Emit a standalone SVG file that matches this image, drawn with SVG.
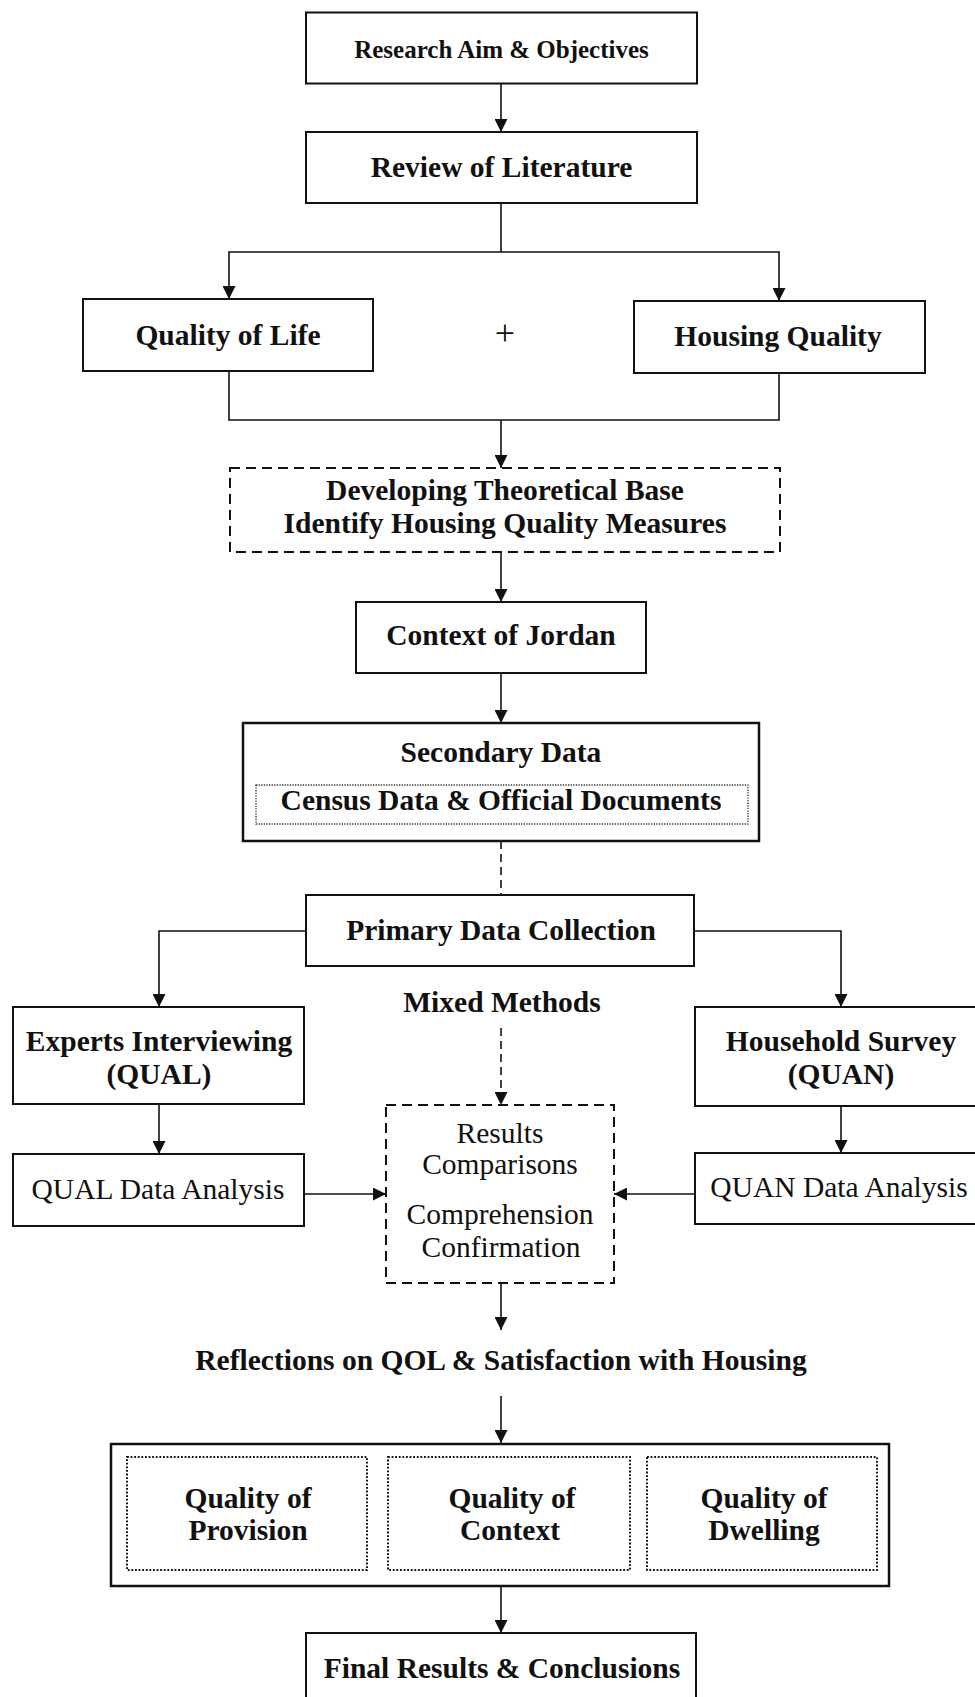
<svg xmlns="http://www.w3.org/2000/svg" width="975" height="1697" viewBox="0 0 975 1697">
  <style>
    .box { fill: #fff; stroke: #111; stroke-width: 2; }
    .heavy { stroke-width: 2.5; }
    .dash { fill: #fff; stroke: #111; stroke-width: 2; stroke-dasharray: 10 6; }
    .dot { fill: none; stroke: #111; stroke-width: 2; stroke-dasharray: 1.8 1.8; }
    .dot-thin { fill: none; stroke: #333; stroke-width: 1.3; stroke-dasharray: 1.3 1.3; }
    .t { font-family: "Liberation Serif", "Times New Roman", serif; font-size: 29.5px; fill: #111; text-anchor: middle; }
    .b { font-weight: bold; }
    .wire { fill: none; stroke: #111; stroke-width: 1.6; }
    .wire-dash { fill: none; stroke: #111; stroke-width: 1.6; stroke-dasharray: 8 5; }
  </style>
  <defs>
    <marker id="arrow" markerUnits="userSpaceOnUse" markerWidth="13" markerHeight="13" refX="13" refY="6.5" orient="auto">
      <path d="M0,0 L13,6.5 L0,13 Z" fill="#111"/>
    </marker>
  </defs>
  <rect width="975" height="1697" fill="#fff"/>

  <!-- connectors -->
  <g id="connectors">
    <path class="wire" d="M501 83 V132" marker-end="url(#arrow)"/>
    <path class="wire" d="M501 203 V252 H229 V299" marker-end="url(#arrow)"/>
    <path class="wire" d="M501 252 H779 V301" marker-end="url(#arrow)"/>
    <path class="wire" d="M229 371 V420 H779 V373"/>
    <path class="wire" d="M501 420 V468" marker-end="url(#arrow)"/>
    <path class="wire" d="M501 552 V602" marker-end="url(#arrow)"/>
    <path class="wire" d="M501 673 V723" marker-end="url(#arrow)"/>
    <path class="wire-dash" d="M501 841 V895"/>
    <path class="wire" d="M306 931 H159 V1007" marker-end="url(#arrow)"/>
    <path class="wire" d="M694 931 H841 V1007" marker-end="url(#arrow)"/>
    <path class="wire-dash" d="M501 1028 V1105" marker-end="url(#arrow)"/>
    <path class="wire" d="M159 1104 V1154" marker-end="url(#arrow)"/>
    <path class="wire" d="M841 1106 V1153" marker-end="url(#arrow)"/>
    <path class="wire" d="M304 1194 H386" marker-end="url(#arrow)"/>
    <path class="wire" d="M695 1194 H614" marker-end="url(#arrow)"/>
    <path class="wire" d="M501 1283 V1330" marker-end="url(#arrow)"/>
    <path class="wire" d="M501 1396 V1443" marker-end="url(#arrow)"/>
    <path class="wire" d="M501 1586 V1633" marker-end="url(#arrow)"/>
  </g>

  <g id="research-aim">
    <rect class="box" x="306" y="12.5" width="391" height="71"/>
    <text class="t b" x="501.5" y="58" style="font-size:25px">Research Aim &amp; Objectives</text>
  </g>

  <g id="review">
    <rect class="box" x="306" y="132" width="391" height="71"/>
    <text class="t b" x="501.5" y="177">Review of Literature</text>
  </g>

  <g id="quality-of-life">
    <rect class="box" x="83" y="299" width="290" height="72"/>
    <text class="t b" x="228" y="345">Quality of Life</text>
  </g>

  <g id="plus">
    <text class="t" x="505" y="345" style="font-size:36px">+</text>
  </g>

  <g id="housing-quality">
    <rect class="box" x="634" y="301" width="291" height="72"/>
    <text class="t b" x="778" y="346">Housing Quality</text>
  </g>

  <g id="theoretical-base">
    <rect class="dash" x="230" y="468" width="550" height="84"/>
    <text class="t b" x="505" y="500">Developing Theoretical Base</text>
    <text class="t b" x="505" y="533">Identify Housing Quality Measures</text>
  </g>

  <g id="context">
    <rect class="box" x="356" y="602" width="290" height="71"/>
    <text class="t b" x="501" y="645">Context of Jordan</text>
  </g>

  <g id="secondary-data">
    <rect class="box heavy" x="243" y="723" width="516" height="118"/>
    <rect class="dot-thin" x="256" y="785" width="492" height="39"/>
    <text class="t b" x="501" y="762">Secondary Data</text>
    <text class="t b" x="501" y="810">Census Data &amp; Official Documents</text>
  </g>

  <g id="primary-data">
    <rect class="box" x="306" y="895" width="388" height="71"/>
    <text class="t b" x="501" y="940">Primary Data Collection</text>
  </g>

  <g id="mixed-methods">
    <text class="t b" x="502" y="1012">Mixed Methods</text>
  </g>

  <g id="experts">
    <rect class="box" x="13" y="1007" width="291" height="97"/>
    <text class="t b" x="159" y="1051">Experts Interviewing</text>
    <text class="t b" x="159" y="1084">(QUAL)</text>
  </g>

  <g id="household">
    <rect class="box" x="695" y="1007" width="292" height="99"/>
    <text class="t b" x="841" y="1051">Household Survey</text>
    <text class="t b" x="841" y="1084">(QUAN)</text>
  </g>

  <g id="qual-analysis">
    <rect class="box" x="13" y="1154" width="291" height="72"/>
    <text class="t" x="158" y="1199">QUAL Data Analysis</text>
  </g>

  <g id="quan-analysis">
    <rect class="box" x="695" y="1153" width="292" height="71"/>
    <text class="t" x="839" y="1197">QUAN Data Analysis</text>
  </g>

  <g id="results">
    <rect class="dash" x="386" y="1105" width="228" height="178"/>
    <text class="t" x="500" y="1143">Results</text>
    <text class="t" x="500" y="1174">Comparisons</text>
    <text class="t" x="500" y="1224">Comprehension</text>
    <text class="t" x="501" y="1257">Confirmation</text>
  </g>

  <g id="reflections">
    <text class="t b" x="501" y="1370">Reflections on QOL &amp; Satisfaction with Housing</text>
  </g>

  <g id="quality-dimensions">
    <rect class="box heavy" x="111" y="1444" width="778" height="142"/>
    <rect class="dot" x="127" y="1457" width="240" height="113"/>
    <rect class="dot" x="388" y="1457" width="242" height="113"/>
    <rect class="dot" x="647" y="1457" width="230" height="113"/>
    <text class="t b" x="248" y="1508">Quality of</text>
    <text class="t b" x="248" y="1540">Provision</text>
    <text class="t b" x="512" y="1508">Quality of</text>
    <text class="t b" x="510" y="1540">Context</text>
    <text class="t b" x="764" y="1508">Quality of</text>
    <text class="t b" x="764" y="1540">Dwelling</text>
  </g>

  <g id="final-results">
    <rect class="box" x="306" y="1633" width="390" height="80"/>
    <text class="t b" x="502" y="1678">Final Results &amp; Conclusions</text>
  </g>
</svg>
